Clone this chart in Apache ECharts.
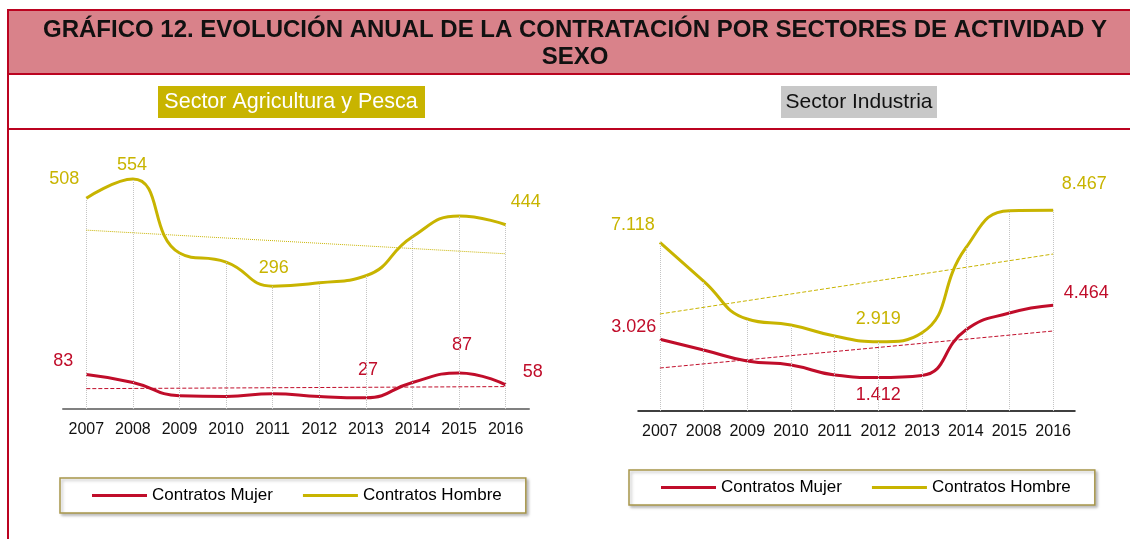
<!DOCTYPE html>
<html lang="es">
<head>
    <meta charset="UTF-8">
    <title>Gráfico 12</title>
    <script src="https://cdn.jsdelivr.net/npm/echarts@6/dist/echarts.min.js"></script>
    <style>
        html, body { margin: 0; padding: 0; background: #fff; }
        #main { width: 1130px; height: 539px; }
    </style>
</head>
<body>
    <div id="main"></div>
<script>
    // datos
    var years = ['2007', '2008', '2009', '2010', '2011', '2012', '2013', '2014', '2015', '2016'];

    var agriMujer = [83, 64, 32, 30, 37, 30, 27, 64, 87, 58];
    var agriHombre = [508, 554, 376, 354, 296, 304, 321, 415, 465, 444];
    var agriTrendMujer = [49, 54];     // línea de tendencia, 2007 y 2016
    var agriTrendHombre = [431, 374];

    var indMujer = [3026, 2574, 2110, 1941, 1519, 1412, 1500, 3418, 4135, 4464];
    var indHombre = [7118, 5485, 3882, 3629, 3165, 2919, 3300, 6878, 8450, 8467];
    var indTrendMujer = [1814, 3376];
    var indTrendHombre = [4093, 6624];

    var seriesNames = ['Contratos Mujer', 'Contratos Hombre'];

    var RED = '#c00d2a';
    var GOLD = '#c8b400';
    var BORDER = '#bb0320';
    var FONT = '"Liberation Sans", Arial, sans-serif';

    // etiquetas visibles: índice -> desplazamiento
    var agriMujerLbl = { 0: [-23, -14], 6: [2, -28], 8: [3, -28], 9: [27, -13] };
    var agriHombreLbl = { 0: [-22, -19], 1: [-1, -14], 4: [1, -18], 9: [20, -23] };
    var indMujerLbl = { 0: [-26, -12], 5: [0, 17], 9: [33, -12] };
    var indHombreLbl = { 0: [-27, -17], 5: [0, -23], 9: [31, -26] };

    function fmt(v) {
        return String(v).replace(/\B(?=(\d{3})+(?!\d))/g, '.');
    }

    function points(values, lbl, color) {
        return values.map(function(v, i) {
            if (!lbl[i]) return v;
            return {
                value: v,
                label: {
                    show: true, position: 'inside', offset: lbl[i],
                    color: color, fontSize: 18, fontFamily: FONT,
                    formatter: function(p) { return fmt(p.value); }
                }
            };
        });
    }

    function trend(t, color, type) {
        return [{ coord: [0, t[0]], lineStyle: { color: color, type: type, width: 1 } },
                { coord: [years.length - 1, t[1]] }];
    }

    function drops(values) {
        return values.map(function(v, i) {
            return [{ coord: [i, 0], lineStyle: { color: '#c4c4c4', type: 'dotted', width: 1 } },
                    { coord: [i, v] }];
        });
    }

    function line(name, idx, values, lbl, color, marks) {
        return {
            name: name, type: 'line', xAxisIndex: idx, yAxisIndex: idx,
            data: points(values, lbl, color),
            smooth: true, symbol: 'circle', symbolSize: 0.1, showSymbol: true,
            lineStyle: { color: color, width: 3 },
            itemStyle: { color: color },
            label: { show: false },
            markLine: { silent: true, symbol: ['none', 'none'], label: { show: false }, data: marks }
        };
    }

    function legend(left, top) {
        return {
            data: seriesNames, left: left, top: top, orient: 'horizontal',
            icon: 'rect', itemWidth: 55, itemHeight: 3, itemGap: 30,
            padding: [9, 24, 9, 32],
            backgroundColor: '#fff', borderColor: '#a8964a', borderWidth: 1.5, borderRadius: 0,
            shadowColor: 'rgba(0,0,0,0.25)', shadowBlur: 3, shadowOffsetX: 2, shadowOffsetY: 2,
            textStyle: { color: '#000', fontSize: 17, fontFamily: FONT },
            selectedMode: false
        };
    }

    var myChart = echarts.init(document.getElementById('main'));

    var option = {
        animation: false,
        textStyle: { fontFamily: FONT },
        graphic: [
            { type: 'rect', shape: { x: 8, y: 10, width: 1130, height: 64 }, style: { fill: '#d9828a' } },
            { type: 'line', shape: { x1: 7, y1: 10, x2: 1130, y2: 10 }, style: { stroke: BORDER, lineWidth: 2 } },
            { type: 'line', shape: { x1: 7, y1: 74, x2: 1130, y2: 74 }, style: { stroke: BORDER, lineWidth: 2 } },
            { type: 'line', shape: { x1: 7, y1: 129, x2: 1130, y2: 129 }, style: { stroke: BORDER, lineWidth: 2 } },
            { type: 'line', shape: { x1: 8, y1: 9, x2: 8, y2: 539 }, style: { stroke: BORDER, lineWidth: 2 } },
            { type: 'text', x: 575, y: 30, style: {
                text: 'GRÁFICO 12. EVOLUCIÓN ANUAL DE LA CONTRATACIÓN POR SECTORES DE ACTIVIDAD Y',
                fill: '#111', font: 'bold 24px ' + FONT, align: 'center', verticalAlign: 'middle' } },
            { type: 'text', x: 575, y: 57, style: {
                text: 'SEXO', fill: '#111', font: 'bold 24px ' + FONT, align: 'center', verticalAlign: 'middle' } },
            { type: 'rect', shape: { x: 158, y: 86, width: 267, height: 32 }, style: { fill: GOLD } },
            { type: 'text', x: 291, y: 102, style: {
                text: 'Sector Agricultura y Pesca', fill: '#fff', font: '21.5px ' + FONT,
                align: 'center', verticalAlign: 'middle' } },
            { type: 'rect', shape: { x: 781, y: 86, width: 156, height: 32 }, style: { fill: '#c8c8c8' } },
            { type: 'text', x: 859, y: 102, style: {
                text: 'Sector Industria', fill: '#111', font: '21px ' + FONT,
                align: 'center', verticalAlign: 'middle' } }
        ],
        legend: [legend(60, 478), legend(629, 470)],
        grid: [
            { left: 63, top: 160, width: 466, height: 249 },
            { left: 638, top: 174, width: 437, height: 237 }
        ],
        xAxis: [
            { gridIndex: 0, type: 'category', data: years, boundaryGap: true,
              axisTick: { show: false }, axisLine: { lineStyle: { color: '#808080', width: 2 } },
              axisLabel: { color: '#111', fontSize: 16, margin: 13, interval: 0 } },
            { gridIndex: 1, type: 'category', data: years, boundaryGap: true,
              axisTick: { show: false }, axisLine: { lineStyle: { color: '#000', width: 1.5 } },
              axisLabel: { color: '#111', fontSize: 16, margin: 13, interval: 0 } }
        ],
        yAxis: [
            { gridIndex: 0, type: 'value', min: 0, max: 600, show: false, splitLine: { show: false } },
            { gridIndex: 1, type: 'value', min: 0, max: 10000, show: false, splitLine: { show: false } }
        ],
        series: [
            line(seriesNames[1], 0, agriHombre, agriHombreLbl, GOLD,
                 drops(agriHombre).concat([trend(agriTrendHombre, GOLD, 'dotted')])),
            line(seriesNames[0], 0, agriMujer, agriMujerLbl, RED,
                 [trend(agriTrendMujer, RED, 'dashed')]),
            line(seriesNames[1], 1, indHombre, indHombreLbl, GOLD,
                 drops(indHombre).concat([trend(indTrendHombre, GOLD, 'dashed')])),
            line(seriesNames[0], 1, indMujer, indMujerLbl, RED,
                 [trend(indTrendMujer, RED, 'dashed')])
        ]
    };

    myChart.setOption(option);
</script>
</body>
</html>
